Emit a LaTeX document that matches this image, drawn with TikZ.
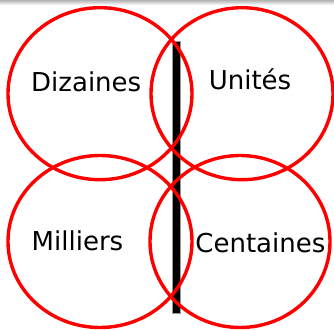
\documentclass[tikz,border=0pt]{standalone}
\usepackage{fontspec}
\setmainfont{DejaVu Sans}
\usetikzlibrary{shapes.geometric}
\begin{document}
\begin{tikzpicture}[x=1pt,y=-1pt,
  ring/.style={draw=red, line width=3.4pt, shape=ellipse, inner sep=0pt},
  lbl/.style={anchor=base, inner sep=0pt, font=\fontsize{26}{30}\selectfont},
  bar/.style={fill=black, draw=black!40, line width=0.4pt}]
\useasboundingbox (0,0) rectangle (334,331);
\shade[top color=black!30, bottom color=white] (0,0) rectangle (334,5);
\filldraw[bar] (172.3,41) rectangle (180,313);
\node[ring, minimum width=184pt, minimum height=172pt] (tl) at (100,93.7) {};
\node[ring, minimum width=182pt, minimum height=172pt] (tr) at (242,93.7) {};
\node[ring, minimum width=184pt, minimum height=172pt] (bl) at (100,241.5) {};
\node[ring, minimum width=180pt, minimum height=172pt] (br) at (240,241.5) {};
\node[lbl] (dz) at (86.2,91.7) {Dizaines};
\node[lbl] (un) at (250,90) {Unités};
\node[lbl] (mi) at (77.5,250.7) {Milliers};
\node[lbl] (ce) at (260.4,252.3) {Centaines};
\end{tikzpicture}
\end{document}
